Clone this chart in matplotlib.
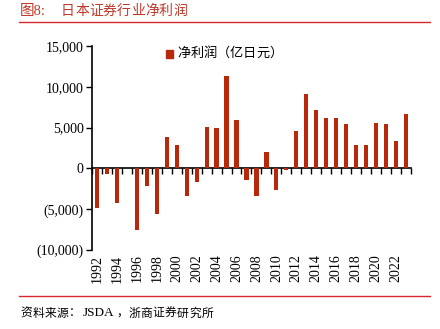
import matplotlib
matplotlib.use("Agg")
import matplotlib.pyplot as plt
from matplotlib.ticker import FuncFormatter, FixedLocator
from matplotlib.patches import Rectangle

# === Data ===
years = list(range(1992, 2024))
profit = [-4900, -700, -4200, 0, -7500, -2100, -5600, 3900, 2900, -3400,
          -1600, 5100, 4900, 11300, 5900, -1400, -3400, 2000, -2600, -200,
          4600, 9100, 7200, 6200, 6200, 5400, 2900, 2900, 5600, 5400,
          3400, 6700]
tick_years = list(range(1992, 2024, 2))

bar_color = "#B8290C"
title_color = "#C0392B"
cjk = ["Noto Sans CJK SC", "DejaVu Sans"]
serif = ["Liberation Serif", "Noto Sans CJK SC"]

W, H = 440, 329

def spaced(x0, y, text, step, **kw):
    # draw CJK text one glyph at a time with fixed pitch (pixels)
    for i, ch in enumerate(text):
        fig.text((x0 + i * step) / W, 1 - y / H, ch, va="center", ha="left", **kw)

fig = plt.figure(figsize=(4.4, 3.29), dpi=100)
ax = fig.add_axes([0.209, 0.240, 0.725, 0.620])

ax.bar(years, profit, width=0.42, color=bar_color, zorder=3)

ax.set_xlim(1991.5, 2023.5)
ax.set_ylim(-10000, 15000)
ax.set_yticks([-10000, -5000, 0, 5000, 10000, 15000])

def fmt(v, pos):
    if v < 0:
        return "({:,.0f})".format(-v)
    return "{:,.0f}".format(v)

ax.yaxis.set_major_formatter(FuncFormatter(fmt))

# x axis sits on zero line, labels pushed to the bottom
ax.spines["top"].set_visible(False)
ax.spines["right"].set_visible(False)
ax.spines["bottom"].set_position(("data", 0))
ax.spines["bottom"].set_linewidth(1.2)
ax.spines["left"].set_linewidth(1.2)

ax.xaxis.set_major_locator(FixedLocator(tick_years))
ax.set_xticklabels([str(y) for y in tick_years], rotation=90,
                   family=serif, fontsize=10)
ax.tick_params(axis="x", which="major", length=0, pad=62)
ax.xaxis.set_minor_locator(FixedLocator([y + 0.5 for y in range(1991, 2024)]))
ax.tick_params(axis="x", which="minor", length=4, width=1, direction="out")
ax.tick_params(axis="y", length=4, width=1, direction="out", pad=2)
for lbl in ax.get_yticklabels():
    lbl.set_family(serif)
    lbl.set_fontsize(10)

# legend
fig.patches.append(Rectangle((166 / W, 1 - 58 / H), 7 / W, 8 / H,
                             transform=fig.transFigure, color=bar_color))
spaced(177, 53, "净利润（亿日元）", 13.2, family=cjk, fontsize=9.5)

# title and source
fig.text(20 / W, 1 - 11 / H, "图8:", family=serif, fontsize=10.5,
         color=title_color, va="center")
spaced(61, 11, "日本证券行业净利润", 14.0, family=cjk, fontsize=10,
       color=title_color)
fig.add_artist(plt.Line2D([19 / W, 430 / W], [1 - 22 / H, 1 - 22 / H],
                          color="#D9262C", lw=1, transform=fig.transFigure))
fig.add_artist(plt.Line2D([19 / W, 430 / W], [1 - 296 / H, 1 - 296 / H],
                          color="#D9262C", lw=1, transform=fig.transFigure))
spaced(20, 313, "资料来源：", 12.2, family=cjk, fontsize=8.5)
fig.text(83 / W, 1 - 313 / H, "JSDA", family=serif,
         fontsize=9.5, va="center")
spaced(116, 313, "，浙商证券研究所", 12.2, family=cjk, fontsize=8.5)

fig.savefig("out.png", dpi=100)
